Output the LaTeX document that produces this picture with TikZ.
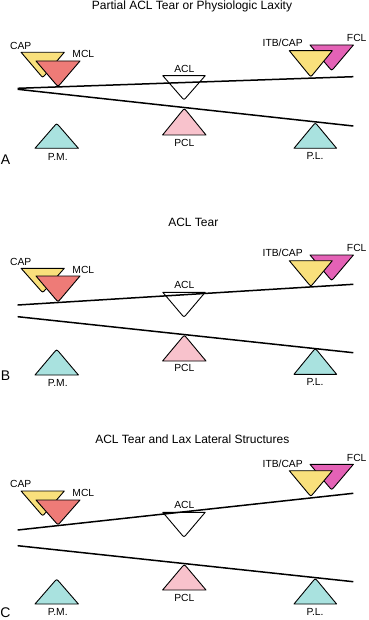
\documentclass[tikz,border=0pt]{standalone}
\usepackage{fontspec}
\setmainfont{Liberation Sans}
\usetikzlibrary{calc}
\definecolor{yelT}{HTML}{F9E07C}
\definecolor{salT}{HTML}{EE7B77}
\definecolor{magT}{HTML}{E462B6}
\definecolor{pinkT}{HTML}{F8C2CC}
\definecolor{cyanT}{HTML}{A9E2DF}
\tikzset{
  tri/.style={draw=black,line width=0.9pt,line join=round},
  beam/.style={draw=black,line width=1.5pt},
  lbl/.style={font=\fontsize{10.3}{12}\selectfont,inner sep=0pt},
  ttl/.style={font=\fontsize{12}{14}\selectfont,inner sep=0pt,anchor=base},
  pnl/.style={font=\fontsize{14}{16}\selectfont,inner sep=0pt}
}
% inverted triangle: center x, top y, apex y, fill, half width
\newcommand{\downTri}[5]{%
  \draw[tri,fill=#4] (#1-#5,#2) -- (#1+#5,#2) -- ($(#1,#3)!0.13!(#1+#5,#2)$) .. controls (#1,#3) .. ($(#1,#3)!0.13!(#1-#5,#2)$) -- cycle;}
% upright triangle: center x, base y, apex y, fill, half width
\newcommand{\upTri}[5]{%
  \draw[tri,fill=#4] (#1-#5,#2) -- (#1+#5,#2) -- ($(#1,#3)!0.13!(#1+#5,#2)$) .. controls (#1,#3) .. ($(#1,#3)!0.13!(#1-#5,#2)$) -- cycle;}
\begin{document}
\begin{tikzpicture}[x=1pt,y=-1pt]
\useasboundingbox[fill=white] (0,0) rectangle (368,620);
% ================= Panel A =================
\node[ttl] (titleA) at (192,9.5) {Partial ACL Tear or Physiologic Laxity};
\downTri{42.7}{52.3}{77.7}{yelT}{21.6}
\downTri{58}{61}{86.7}{salT}{22}
\downTri{184}{75.7}{100}{white}{21.2}
\downTri{331.7}{45}{70.7}{magT}{21.7}
\downTri{310.8}{50.7}{77}{yelT}{21.5}
\upTri{56.7}{148.3}{123.3}{cyanT}{21.7}
\upTri{184.3}{135}{108.3}{pinkT}{21.7}
\upTri{315.3}{148.3}{122.7}{cyanT}{21.3}
\coordinate (uA1) at (17.7,88.3); \coordinate (uA2) at (353.3,76.7);
\coordinate (lA1) at (17.7,89.3); \coordinate (lA2) at (353.3,126);
\draw[beam] (uA1) -- (uA2);
\draw[beam] (lA1) -- (lA2);
\node[lbl] (capA) at (20.7,45.7) {CAP};
\node[lbl] (mclA) at (83.3,54.3) {MCL};
\node[lbl] (aclA) at (184.3,69) {ACL};
\node[lbl] (itbA) at (282.7,43.3) {ITB/CAP};
\node[lbl] (fclA) at (356.7,38.3) {FCL};
\node[lbl] (pmA) at (57.7,156.7) {P.M.};
\node[lbl] (pclA) at (184.3,142.7) {PCL};
\node[lbl] (plA) at (315,156) {P.L.};
\node[pnl] (letA) at (5.5,159.3) {A};
% ================= Panel B =================
\node[ttl] (titleB) at (193.3,226.7) {ACL Tear};
\downTri{42.7}{268.3}{292.7}{yelT}{21.6}
\downTri{58}{276}{302}{salT}{22}
\downTri{184}{292.3}{317.3}{white}{21.2}
\downTri{331.7}{255}{280.7}{magT}{21.7}
\downTri{310.8}{260.7}{286.5}{yelT}{21.5}
\upTri{56.7}{375}{349.3}{cyanT}{21.7}
\upTri{184.3}{361}{335}{pinkT}{21.7}
\upTri{315.3}{374.3}{348.3}{cyanT}{21.3}
\coordinate (uB1) at (17.7,305); \coordinate (uB2) at (353.3,284.3);
\coordinate (lB1) at (17.7,316.7); \coordinate (lB2) at (353.3,352.7);
\draw[beam] (uB1) -- (uB2);
\draw[beam] (lB1) -- (lB2);
\node[lbl] (capB) at (20.7,261.7) {CAP};
\node[lbl] (mclB) at (83.3,270) {MCL};
\node[lbl] (aclB) at (184.3,285.3) {ACL};
\node[lbl] (itbB) at (282.7,253.3) {ITB/CAP};
\node[lbl] (fclB) at (356.7,248.3) {FCL};
\node[lbl] (pmB) at (57.7,383.3) {P.M.};
\node[lbl] (pclB) at (184.3,368.3) {PCL};
\node[lbl] (plB) at (315,382.3) {P.L.};
\node[pnl] (letB) at (5.5,375.7) {B};
% ================= Panel C =================
\node[ttl] (titleC) at (192.3,443.3) {ACL Tear and Lax Lateral Structures};
\downTri{42.7}{491}{516}{yelT}{21.6}
\downTri{58}{500}{525}{salT}{22}
\downTri{184}{512.3}{537.3}{white}{21.2}
\downTri{331.7}{464.3}{490}{magT}{21.7}
\downTri{310.8}{470.7}{496.5}{yelT}{21.5}
\upTri{56.7}{604}{579}{cyanT}{21.7}
\upTri{184.3}{590}{564.3}{pinkT}{21.7}
\upTri{315.3}{604}{578.3}{cyanT}{21.3}
\coordinate (uC1) at (17.7,530); \coordinate (uC2) at (353.3,493.3);
\coordinate (lC1) at (17.7,545.7); \coordinate (lC2) at (353.3,581.7);
\draw[beam] (uC1) -- (uC2);
\draw[beam] (lC1) -- (lC2);
\node[lbl] (capC) at (20.7,484) {CAP};
\node[lbl] (mclC) at (83.3,493.3) {MCL};
\node[lbl] (aclC) at (184.3,505) {ACL};
\node[lbl] (itbC) at (282.7,464) {ITB/CAP};
\node[lbl] (fclC) at (356.7,458.3) {FCL};
\node[lbl] (pmC) at (57.7,612.3) {P.M.};
\node[lbl] (pclC) at (184.3,597.7) {PCL};
\node[lbl] (plC) at (315,612.3) {P.L.};
\node[pnl] (letC) at (5.5,612.5) {C};
\end{tikzpicture}
\end{document}
